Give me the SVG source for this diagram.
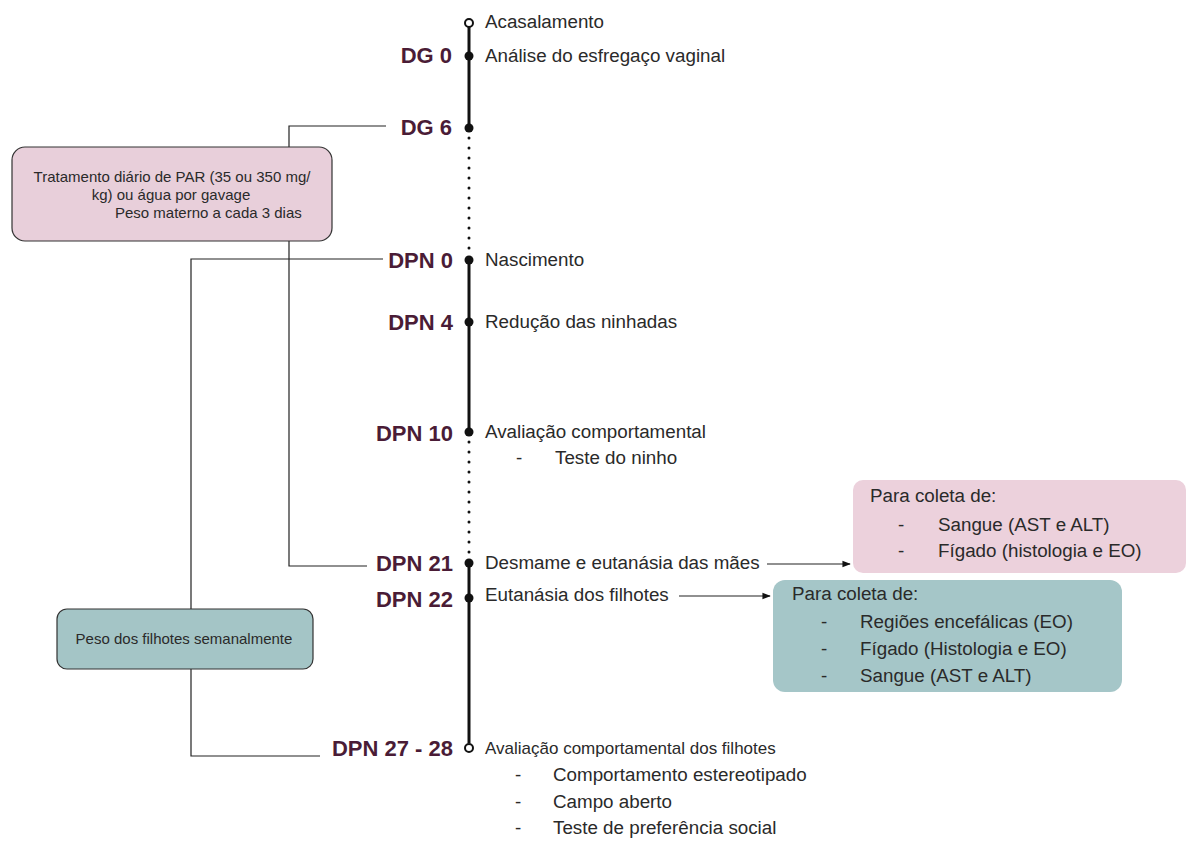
<svg xmlns="http://www.w3.org/2000/svg" width="1192" height="843" viewBox="0 0 1192 843">
<defs>
<marker id="arr" viewBox="0 0 10 10" refX="9" refY="5" markerWidth="7" markerHeight="7" orient="auto"><path d="M0,1 L10,5 L0,9 z" fill="#111"/></marker>
<style>
.lbl{font-family:"Liberation Sans",Arial,sans-serif;font-weight:bold;font-size:22px;fill:#4a1c36;text-anchor:end}
.t{font-family:"Liberation Sans",Arial,sans-serif;font-size:18.8px;fill:#2a2a2a}
.b{font-family:"Liberation Sans",Arial,sans-serif;font-size:17px;fill:#2a2a2a}
.s{font-family:"Liberation Sans",Arial,sans-serif;font-size:15px;fill:#2a2a2a}
.ln{stroke:#222;stroke-width:1.2;fill:none}
.axis{stroke:#111;stroke-width:3;fill:none}
.dot{stroke:#111;stroke-width:3;stroke-dasharray:0 10;stroke-linecap:round;fill:none}
</style>
</defs>
<rect width="1192" height="843" fill="#fff"/>
<g id="connectors">
<line class="axis" x1="469" y1="27" x2="469" y2="128"/>
<line class="dot" x1="469" y1="138" x2="469" y2="258"/>
<line class="axis" x1="469" y1="260" x2="469" y2="432"/>
<line class="dot" x1="469" y1="442" x2="469" y2="562"/>
<line class="axis" x1="469" y1="563" x2="469" y2="743"/>
<polyline class="ln" points="386,126 289,126 289,147"/>
<polyline class="ln" points="289,241 289,566 367,566"/>
<polyline class="ln" points="383,259 191,259 191,609"/>
<polyline class="ln" points="191,669 191,756 320,756"/>
<line class="ln" x1="767" y1="564" x2="850" y2="564" marker-end="url(#arr)"/>
<line class="ln" x1="679" y1="596" x2="770" y2="596" marker-end="url(#arr)"/>
</g>
<g id="timeline">
<circle cx="469" cy="23" r="4" fill="#fff" stroke="#111" stroke-width="2"/>
<circle cx="469" cy="56" r="4.5" fill="#111"/>
<circle cx="469" cy="128" r="4.5" fill="#111"/>
<circle cx="469" cy="260" r="4.5" fill="#111"/>
<circle cx="469" cy="322" r="4.5" fill="#111"/>
<circle cx="469" cy="432" r="4.5" fill="#111"/>
<circle cx="469" cy="563" r="4.5" fill="#111"/>
<circle cx="469" cy="598" r="4.5" fill="#111"/>
<circle cx="469" cy="748" r="4" fill="#fff" stroke="#111" stroke-width="2"/>
</g>
<g id="labels">
<text class="lbl" x="452" y="63">DG 0</text>
<text class="lbl" x="452" y="135">DG 6</text>
<text class="lbl" x="453" y="268">DPN 0</text>
<text class="lbl" x="453" y="330">DPN 4</text>
<text class="lbl" x="453" y="441">DPN 10</text>
<text class="lbl" x="453" y="571">DPN 21</text>
<text class="lbl" x="453" y="607">DPN 22</text>
<text class="lbl" x="453" y="756">DPN 27 - 28</text>
</g>
<g id="events">
<text class="t" x="485" y="28">Acasalamento</text>
<text class="t" x="485" y="62">Análise do esfregaço vaginal</text>
<text class="t" x="485" y="266">Nascimento</text>
<text class="t" x="485" y="328">Redução das ninhadas</text>
<text class="t" x="485" y="438">Avaliação comportamental</text>
<text class="t" x="516" y="464">-</text>
<text class="t" x="555" y="464">Teste do ninho</text>
<text class="t" x="485" y="569">Desmame e eutanásia das mães</text>
<text class="t" x="485" y="601">Eutanásia dos filhotes</text>
<text class="b" x="485" y="754">Avaliação comportamental dos filhotes</text>
<text class="t" x="515" y="781">-</text>
<text class="t" x="553" y="781">Comportamento estereotipado</text>
<text class="t" x="515" y="808">-</text>
<text class="t" x="553" y="808">Campo aberto</text>
<text class="t" x="515" y="834">-</text>
<text class="t" x="553" y="834">Teste de preferência social</text>
</g>
<g id="box-tratamento">
<rect x="12" y="147" width="320" height="94" rx="13" fill="#e8cfda" stroke="#333" stroke-width="1.2"/>
<text class="s" x="172" y="182" text-anchor="middle">Tratamento diário de PAR (35 ou 350 mg/</text>
<text class="s" x="171" y="200" text-anchor="middle">kg) ou água por gavage</text>
<text class="s" x="115" y="218">Peso materno a cada 3 dias</text>
</g>
<g id="box-peso">
<rect x="57" y="609" width="256" height="60" rx="10" fill="#a4c5c6" stroke="#333" stroke-width="1.2"/>
<text class="s" x="184" y="644" text-anchor="middle">Peso dos filhotes semanalmente</text>
</g>
<g id="box-maes">
<rect x="853" y="480" width="333" height="93" rx="10" fill="#ecd1dc"/>
<text class="t" x="870" y="502">Para coleta de:</text>
<text class="t" x="898" y="531">-</text>
<text class="t" x="938" y="531">Sangue (AST e ALT)</text>
<text class="t" x="898" y="557">-</text>
<text class="t" x="938" y="557">Fígado (histologia e EO)</text>
</g>
<g id="box-filhotes">
<rect x="773" y="580" width="349" height="112" rx="12" fill="#a5c6c8"/>
<text class="t" x="792" y="600">Para coleta de:</text>
<text class="t" x="821" y="628">-</text>
<text class="t" x="860" y="628">Regiões encefálicas (EO)</text>
<text class="t" x="821" y="655">-</text>
<text class="t" x="860" y="655">Fígado (Histologia e EO)</text>
<text class="t" x="821" y="682">-</text>
<text class="t" x="860" y="682">Sangue (AST e ALT)</text>
</g>
</svg>
